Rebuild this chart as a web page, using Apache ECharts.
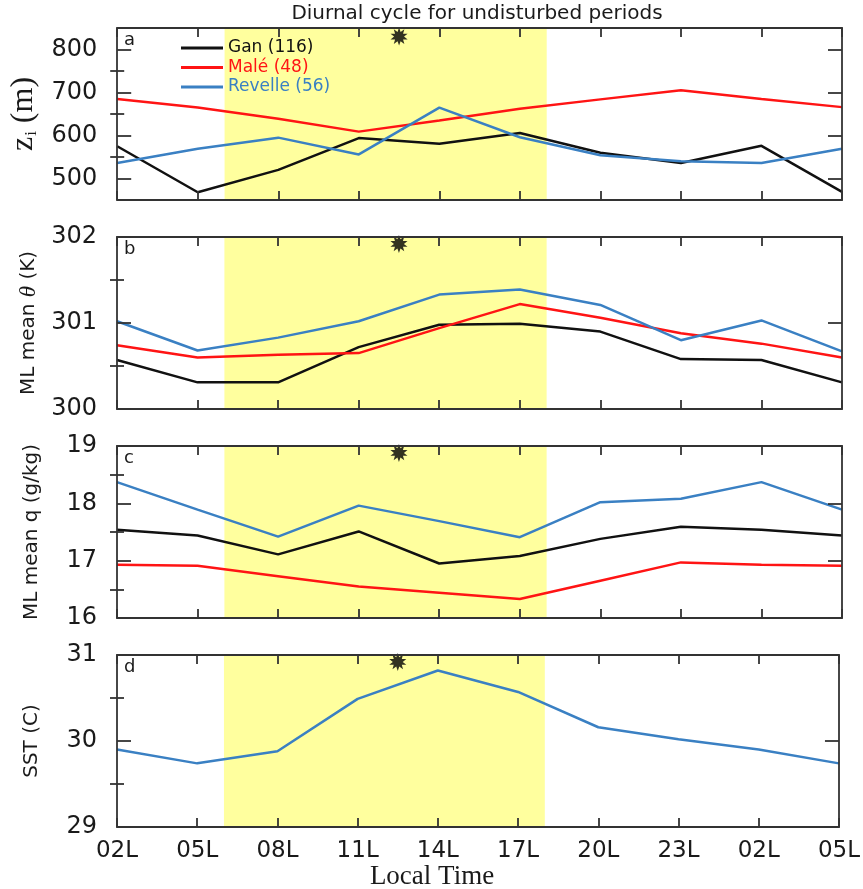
<!DOCTYPE html>
<html>
<head>
<meta charset="utf-8">
<script src="https://cdn.jsdelivr.net/npm/echarts@6/dist/echarts.min.js"></script>
<style>
html,body{margin:0;padding:0;background:#fff;}
#chart{width:863px;height:889px;}
</style>
</head>
<body>
<div id="chart"></div>
<script>
// ---- data ----
const timeLabels = ['02L','05L','08L','11L','14L','17L','20L','23L','02L','05L'];
const hoursFromStart = [0,3,6,9,12,15,18,21,24,27];
const daylight = [4, 16];        // 06L .. 18L in hours after first 02L
const sunHour = 10.5;            // local noon marker (12:30L)
const sunLevels = [830, 301.92, 18.88, 30.92];

const ziGan     = [575, 468, 520, 594, 581, 606, 560, 536, 576, 469];
const ziMale    = [685, 665, 639, 609, 635, 662, 684, 705, 685, 666];
const ziRevelle = [536, 569, 595, 556, 665, 596, 554, 540, 536, 569];

const thetaGan     = [300.57, 300.31, 300.31, 300.72, 300.98, 300.99, 300.90, 300.58, 300.57, 300.31];
const thetaMale    = [300.74, 300.60, 300.63, 300.65, 300.94, 301.22, 301.06, 300.88, 300.76, 300.60];
const thetaRevelle = [301.02, 300.68, 300.83, 301.02, 301.33, 301.39, 301.21, 300.80, 301.03, 300.67];

const qGan     = [17.54, 17.44, 17.11, 17.51, 16.95, 17.08, 17.38, 17.59, 17.54, 17.44];
const qMale    = [16.93, 16.91, 16.73, 16.55, 16.44, 16.33, 16.65, 16.97, 16.93, 16.91];
const qRevelle = [18.37, 17.89, 17.42, 17.96, 17.69, 17.41, 18.02, 18.08, 18.37, 17.89];

const sstRevelle = [29.90, 29.74, 29.88, 30.49, 30.82, 30.57, 30.16, 30.02, 29.90, 29.74];

const names = ['Gan (116)', 'Malé (48)', 'Revelle (56)'];
const colors = ['#111111', '#ff1414', '#3a80c3'];

// ---- layout / style ----
const gridLeft = 117, gridWidth = 725, gridHeight = 172;
const gridTops = [28, 237, 446, 655];
const FONT = 'DejaVu Sans';
const TXT = '#1a1a1a';

const panels = [
  { min: 450, max: 850, majors: [500,600,700,800], minors: [550,650,750],
    name: '{z|z}{sub|i}{p| (m)}', letter: 'a',
    lines: [[ziGan,0],[ziMale,1],[ziRevelle,2]] },
  { min: 300, max: 302, majors: [300,301,302], minors: [300.5,301.5],
    name: 'ML mean {th|θ} (K)', letter: 'b',
    lines: [[thetaGan,0],[thetaMale,1],[thetaRevelle,2]] },
  { min: 16, max: 19, majors: [16,17,18,19], minors: [16.5,17.5,18.5],
    name: 'ML mean q (g/kg)', letter: 'c',
    lines: [[qGan,0],[qMale,1],[qRevelle,2]] },
  { min: 29, max: 31, majors: [29,30,31], minors: [29.5,30.5],
    name: 'SST (C)', letter: 'd',
    lines: [[sstRevelle,2]] }
];

function starPath(n, r1, r2) {
  let d = '';
  for (let i = 0; i < 2 * n; i++) {
    const a = i * Math.PI / n - Math.PI / 2;
    const r = (i % 2) ? r2 : r1;
    d += (i ? 'L' : 'M') + (r * Math.cos(a)).toFixed(3) + ' ' + (r * Math.sin(a)).toFixed(3);
  }
  return 'path://' + d + 'Z';
}
const STAR = starPath(10, 1, 0.55);

const grids = [], xAxes = [], yAxes = [], series = [], graphics = [];
const axisLineStyle = { color: '#333', width: 1.8 };

panels.forEach((p, i) => {
  grids.push({ left: gridLeft, top: gridTops[i], width: gridWidth, height: gridHeight });
  ['bottom', 'top'].forEach(pos => {
    xAxes.push({
      gridIndex: i, type: 'value', min: 0, max: 27, interval: 3, position: pos, z: 10,
      axisLine: { show: true, onZero: false, lineStyle: axisLineStyle },
      axisTick: { show: true, inside: true, length: 9, lineStyle: axisLineStyle },
      axisLabel: (pos === 'bottom' && i === 3) ? {
        show: true, margin: 13, fontFamily: FONT, fontSize: 23, color: TXT,
        formatter: v => timeLabels[Math.round(v / 3)] || ''
      } : { show: false },
      splitLine: { show: false }
    });
  });
  ['left', 'right'].forEach(pos => {
    const major = {
      gridIndex: i, type: 'value', min: p.min, max: p.max, position: pos, z: 10,
      axisLine: { show: true, onZero: false, lineStyle: axisLineStyle },
      axisTick: { show: true, inside: true, length: 14, customValues: p.majors, lineStyle: axisLineStyle },
      axisLabel: pos === 'left' ? {
        show: true, customValues: p.majors, margin: 20, fontFamily: FONT, fontSize: 24, color: TXT
      } : { show: false },
      splitLine: { show: false }
    };
    if (pos === 'left') {
      major.name = p.name;
      major.nameLocation = 'middle';
      major.nameRotate = 90;
      major.nameGap = 75;
      major.nameTextStyle = {
        fontFamily: FONT, fontSize: 20, color: TXT,
        rich: {
          z: { fontFamily: 'Liberation Serif', fontSize: 32, color: TXT },
          sub: { fontFamily: 'Liberation Serif', fontSize: 17, color: TXT, padding: [16, 0, 0, 1] },
          p: { fontFamily: 'Liberation Serif', fontSize: 32, color: TXT },
          th: { fontFamily: 'Liberation Serif', fontStyle: 'italic', fontSize: 23, color: TXT }
        }
      };
    }
    yAxes.push(major);
    yAxes.push({
      gridIndex: i, type: 'value', min: p.min, max: p.max, position: pos, z: 10,
      axisLine: { show: false },
      axisTick: { show: true, inside: true, length: 7, customValues: p.minors, lineStyle: axisLineStyle },
      axisLabel: { show: false },
      splitLine: { show: false }
    });
  });

  p.lines.forEach(([vals, ci], k) => {
    const s = {
      type: 'line', name: names[ci], xAxisIndex: 2 * i, yAxisIndex: 4 * i,
      data: vals.map((v, j) => [hoursFromStart[j], v]),
      symbol: 'none', lineStyle: { color: colors[ci], width: 2.5 }, itemStyle: { color: colors[ci] },
      z: 3, silent: true
    };
    if (k === 0) {
      s.markArea = {
        silent: true, itemStyle: { color: '#ffff9e' },
        data: [[{ xAxis: daylight[0] }, { xAxis: daylight[1] }]]
      };
    }
    series.push(s);
  });
  series.push({
    type: 'scatter', xAxisIndex: 2 * i, yAxisIndex: 4 * i, silent: true,
    data: [[sunHour, sunLevels[i]]], symbol: STAR, symbolSize: 18, symbolKeepAspect: true,
    itemStyle: { color: '#000' }, z: 6
  });

  graphics.push({
    type: 'text', left: gridLeft + 7, top: gridTops[i] + 3, z: 20, silent: true,
    style: { text: p.letter, font: '18px "DejaVu Sans"', fill: TXT }
  });
});

graphics.push({
  type: 'text', x: 432, y: 877, z: 20, silent: true,
  style: { text: 'Local Time', font: '27px "Liberation Serif"', fill: TXT, textAlign: 'center', textVerticalAlign: 'middle' }
});

const option = {
  animation: false,
  backgroundColor: '#fff',
  title: {
    text: 'Diurnal cycle for undisturbed periods',
    left: 477, textAlign: 'center', top: 4, padding: 0,
    textStyle: { fontFamily: FONT, fontSize: 20, fontWeight: 'normal', color: TXT }
  },
  legend: {
    orient: 'vertical', left: 181, top: 39, padding: 0, itemGap: 1.5,
    itemWidth: 42, itemHeight: 3, icon: 'rect',
    data: names.map((n, k) => ({ name: n, textStyle: { color: colors[k] } })),
    textStyle: { fontFamily: FONT, fontSize: 17, lineHeight: 18 },
    selectedMode: false
  },
  grid: grids,
  xAxis: xAxes,
  yAxis: yAxes,
  series: series,
  graphic: graphics
};

const chart = echarts.init(document.getElementById('chart'), null, { renderer: 'canvas' });
chart.setOption(option);
</script>
</body>
</html>
